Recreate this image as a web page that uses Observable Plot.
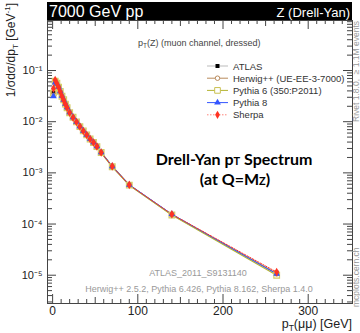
<!DOCTYPE html>
<html><head><meta charset="utf-8">
<script src="https://cdn.jsdelivr.net/npm/d3@7"></script>
<script src="https://cdn.jsdelivr.net/npm/@observablehq/plot@0.6"></script>
<style>body{margin:0;background:#fff} svg{display:block}</style>
</head><body><div id="chart"></div>
<script>
// ---- data ----
const pt = [1,3,5,7,9,11,13,15,17,20,24,28,32,36,40,44,48,52,57,70,90,140,263];
const atlas   = [0.0373,0.0638,0.0557,0.0477,0.0389,0.0318,0.0266,0.0222,0.0190,0.0151,0.0121,0.00988,0.00807,0.00660,0.00551,0.00460,0.00394,0.00329,0.00251,0.00134,0.000583,0.000155,0.0000112];
const herwig  = [0.0380,0.0625,0.0560,0.0470,0.0385,0.0320,0.0264,0.0224,0.0188,0.0152,0.0120,0.00985,0.00810,0.00655,0.00548,0.00462,0.00390,0.00330,0.00248,0.00133,0.000578,0.000152,0.0000108];
const pythia6 = [0.0362,0.0618,0.0565,0.0472,0.0392,0.0315,0.0268,0.0220,0.0187,0.0150,0.0122,0.00990,0.00800,0.00662,0.00553,0.00458,0.00392,0.00326,0.00250,0.00132,0.000575,0.000150,0.0000100];
const pythia8 = [0.0315,0.0580,0.0552,0.0480,0.0392,0.0322,0.0268,0.0224,0.0191,0.0153,0.0122,0.00995,0.00812,0.00664,0.00555,0.00463,0.00396,0.00331,0.00252,0.00135,0.000585,0.000156,0.0000106];
const sherpa  = [0.0446,0.0655,0.0560,0.0470,0.0386,0.0316,0.0264,0.0220,0.0188,0.0150,0.0120,0.00985,0.00805,0.00658,0.00550,0.00459,0.00393,0.00328,0.00250,0.00134,0.000582,0.000155,0.0000115];
const seriesNames = ["ATLAS","Herwig++ (UE-EE-3-7000)","Pythia 6 (350:P2011)","Pythia 8","Sherpa"];
const yTicks = [1e-5,1e-4,1e-3,1e-2,1e-1];
const yTickLabels = ["10\u207B\u2075","10\u207B\u2074","10\u207B\u00B3","10\u207B\u00B2","10\u207B\u00B9"];
const xTicks = [0,100,200,300];
const headerLeft = "7000 GeV pp";
const headerRight = "Z (Drell-Yan)";
const plotTitle = "(Z) (muon channel, dressed)";
const analysisName = "ATLAS_2011_S9131140";
const versions = "Herwig++ 2.5.2, Pythia 6.426, Pythia 8.162, Sherpa 1.4.0";
const rivetInfo = "Rivet 1.8.0,  \u2265 1.1M events";
const siteInfo = "mcplots.cern.ch";

// ---- layout / style ----
const W = 360, H = 333, mL = 47, mR = 8, mT = 20, mB = 30;
const frameW = W - mL - mR, frameH = H - mT - mB;
const colors = ["#000000","#b98a5c","#b3b332","#3355ff","#ff3322"];
const yDomain = [2.8e-6, 0.95];
const yMinor = d3.range(-6, 0).flatMap(e => d3.range(2, 10).map(m => m * 10 ** e))
  .filter(v => v > yDomain[0] && v < yDomain[1]);
const xMinor = d3.range(0, 351, 10).filter(v => v % 50 !== 0);
const xMid = [50,150,250];
const rows = vals => pt.map((x, i) => ({x, y: vals[i]}));
const lineOpts = {x: "x", y: "y"};

const chart = Plot.plot({
  width: W, height: H,
  marginLeft: mL, marginRight: mR, marginTop: mT, marginBottom: mB,
  style: {fontFamily: "'Liberation Sans', Arial, sans-serif", background: "white", color: "#222", overflow: "visible"},
  x: {domain: [-6, 352], label: null},
  y: {type: "log", domain: yDomain, label: null},
  marks: [
    Plot.tickY(yTicks, {insetRight: frameW - 9, stroke: "#444"}),
    Plot.tickY(yTicks, {insetLeft: frameW - 9, stroke: "#444"}),
    Plot.tickY(yMinor, {insetRight: frameW - 5, stroke: "#444"}),
    Plot.tickY(yMinor, {insetLeft: frameW - 5, stroke: "#444"}),
    Plot.tickX(xTicks, {insetTop: frameH - 9, stroke: "#444"}),
    Plot.tickX(xTicks, {insetBottom: frameH - 9, stroke: "#444"}),
    Plot.tickX(xMid, {insetTop: frameH - 6, stroke: "#444"}),
    Plot.tickX(xMid, {insetBottom: frameH - 6, stroke: "#444"}),
    Plot.tickX(xMinor, {insetTop: frameH - 4, stroke: "#444"}),
    Plot.tickX(xMinor, {insetBottom: frameH - 4, stroke: "#444"}),
    Plot.axisY(yTicks, {tickSize: 0, tickPadding: 5, fontSize: 11, fill: "#222",
      tickFormat: d => yTickLabels[yTicks.indexOf(d)]}),
    Plot.axisX(xTicks, {tickSize: 0, tickPadding: 3, fontSize: 12, fill: "#222"}),
    Plot.line(rows(herwig), {...lineOpts, stroke: colors[1], strokeWidth: 1.3}),
    Plot.line(rows(pythia6), {...lineOpts, stroke: colors[2], strokeWidth: 1.3}),
    Plot.line(rows(pythia8), {...lineOpts, stroke: colors[3], strokeWidth: 1}),
    Plot.line(rows(sherpa), {...lineOpts, stroke: colors[4], strokeWidth: 1, strokeDasharray: "1.5,1.5"}),
    Plot.dot(rows(atlas), {...lineOpts, symbol: "square", r: 2.2, fill: colors[0]}),
    Plot.dot(rows(herwig), {...lineOpts, symbol: "circle", r: 2.2, fill: "none", stroke: colors[1]}),
    Plot.dot(rows(pythia6), {...lineOpts, symbol: "square", r: 3.2, fill: "none", stroke: "#d6cc66", strokeWidth: 1.2}),
    Plot.dot(rows(pythia8), {...lineOpts, symbol: "triangle", r: 2.5, fill: colors[3]}),
    Plot.dot(rows(sherpa), {...lineOpts, symbol: "diamond", r: 2.6, fill: colors[4]}),
    Plot.frame({stroke: "#444"})
  ]
});

document.getElementById("chart").appendChild(chart);

// ---- decorations ----
const svg = d3.select(chart);
const ff = "'Liberation Sans', Arial, sans-serif";
const txt = (x, y, anchor = "start") => svg.append("text").attr("x", x).attr("y", y)
  .attr("text-anchor", anchor).attr("font-family", ff);
svg.insert("rect", ":first-child").attr("x", 0).attr("y", 0).attr("width", W).attr("height", H).attr("fill", "white");
svg.append("rect").attr("x", mL).attr("y", 2).attr("width", frameW).attr("height", mT - 2).attr("fill", "black");
txt(mL + 2, 17).attr("fill", "white").attr("font-size", 16).text(headerLeft);
txt(W - mR - 2, 17, "end").attr("fill", "white").attr("font-size", 13).text(headerRight);

// y label
const yl = svg.append("text").attr("transform", `translate(15,3) rotate(-90)`).attr("text-anchor", "end")
  .attr("font-size", 12).attr("font-family", ff).attr("fill", "#222");
yl.append("tspan").text("1/\u03C3d\u03C3/dp");
yl.append("tspan").attr("font-size", 8).attr("dy", 3).text("T");
yl.append("tspan").attr("dy", -3).text(" [GeV");
yl.append("tspan").attr("font-size", 8).attr("dy", -5).text("-1");
yl.append("tspan").attr("dy", 5).text("]");

// x label
const xl = txt(W - mR, 328, "end").attr("font-size", 12.5).attr("fill", "#222");
xl.append("tspan").text("p");
xl.append("tspan").attr("font-size", 8.5).attr("dy", 2.5).text("T");
xl.append("tspan").attr("dy", -2.5).text("(\u03BC\u03BC) [GeV]");

// plot title
const pt0 = txt(138, 46).attr("font-size", 9).attr("fill", "#444");
pt0.append("tspan").text("p");
pt0.append("tspan").attr("font-size", 6.5).attr("dy", 2).text("T");
pt0.append("tspan").attr("dy", -2).text(plotTitle);

// legend
const symbols = [d3.symbolSquare, d3.symbolCircle, d3.symbolSquare, d3.symbolTriangle, d3.symbolDiamond];
const symSizes = [16, 16, 32, 20, 20];
seriesNames.forEach((name, i) => {
  const y = 66 + 12.2 * i;
  const g = svg.append("g");
  g.append("line").attr("x1", 207).attr("x2", 228).attr("y1", y).attr("y2", y)
    .attr("stroke", i === 0 ? "#bbb" : colors[i]).attr("stroke-width", 1)
    .attr("stroke-dasharray", i === 4 ? "1.5,1.5" : null).attr("opacity", i === 4 ? 0.6 : 1);
  const filled = i === 0 || i === 3 || i === 4;
  g.append("path").attr("transform", `translate(217.5,${y})`)
    .attr("d", d3.symbol(symbols[i], symSizes[i])())
    .attr("fill", filled ? colors[i] : "white")
    .attr("stroke", filled ? "none" : (i === 2 ? "#c9c050" : colors[i]));
  txt(233, y + 3.5).attr("font-size", 9.5).attr("fill", "#333").text(name);
});

// big annotation
const bf = "Lato, 'Open Sans', sans-serif";
const a1 = txt(234, 165, "middle").attr("font-size", 16).attr("font-weight", 700).attr("font-family", bf).attr("fill", "#000");
a1.append("tspan").text("Drell-Yan p");
a1.append("tspan").attr("font-size", 11).text("T");
a1.append("tspan").text(" Spectrum");
const a2 = txt(235, 185, "middle").attr("font-size", 16).attr("font-weight", 700).attr("font-family", bf).attr("fill", "#000");
a2.append("tspan").text("(at Q=M");
a2.append("tspan").attr("font-size", 11).text("Z");
a2.append("tspan").text(")");

// bottom captions inside frame
txt(198, 276, "middle").attr("font-size", 9).attr("fill", "#999").text(analysisName);
txt(199, 292, "middle").attr("font-size", 9).attr("fill", "#999").text(versions);

// right vertical texts
svg.append("text").attr("transform", `translate(359,122) rotate(-90)`).attr("text-anchor", "start").attr("font-size", 8.5)
  .attr("font-family", ff).attr("fill", "#999").text(rivetInfo);
svg.append("text").attr("transform", `translate(359,307) rotate(-90)`).attr("text-anchor", "start").attr("font-size", 8.5)
  .attr("font-family", ff).attr("fill", "#999").text(siteInfo);
</script>
</body></html>
